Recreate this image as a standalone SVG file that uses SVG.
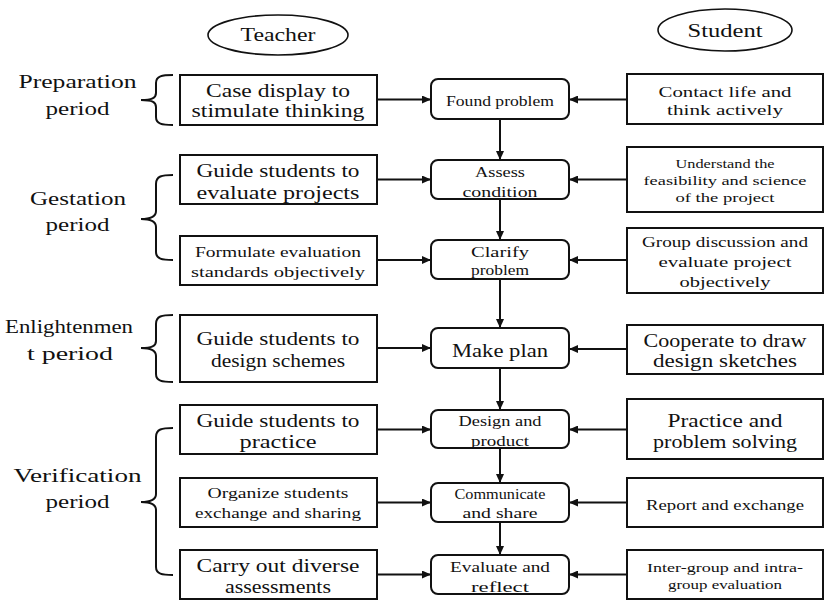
<svg xmlns="http://www.w3.org/2000/svg" width="829" height="606" viewBox="0 0 829 606">
<style>
text{font-family:"Liberation Serif","DejaVu Serif",serif;fill:#111;text-anchor:middle;}
.big{font-size:19.5px;}
.m{font-size:18px;}
.s{font-size:15.5px;}
.xs{font-size:13.3px;}
.box{fill:#fff;stroke:#111;stroke-width:2;}
.ell{fill:#fff;stroke:#111;stroke-width:1.6;}
.br{fill:none;stroke:#111;stroke-width:2;}
.ln{fill:none;stroke:#111;stroke-width:2;}
</style>
<defs>
<marker id="ah" markerUnits="userSpaceOnUse" markerWidth="10" markerHeight="8" refX="9" refY="4" orient="auto">
<path d="M0,0 L9,4 L0,8 Z" fill="#111"/>
</marker>
</defs>
<rect width="829" height="606" fill="#fff"/>

<g id="teacher-header">
<ellipse class="ell" cx="278" cy="35" rx="70" ry="20"/>
<text class="big" x="278" y="41" textLength="75" lengthAdjust="spacingAndGlyphs">Teacher</text>
</g>
<g id="student-header">
<ellipse class="ell" cx="725" cy="30" rx="67" ry="21"/>
<text class="big" x="725" y="37" textLength="75" lengthAdjust="spacingAndGlyphs">Student</text>
</g>

<g id="phase-preparation">
<text class="big" x="77.5" y="88" textLength="118" lengthAdjust="spacingAndGlyphs">Preparation</text>
<text class="big" x="77.5" y="115" textLength="64" lengthAdjust="spacingAndGlyphs">period</text>
<path class="br" d="M173,75 C162,75 156,76 156,83 L156,93 C156,98 152,100 141,100 C152,100 156,102 156,107 L156,117 C156,124 162,125 173,125"/>
</g>
<g id="phase-gestation">
<text class="big" x="78" y="205" textLength="96" lengthAdjust="spacingAndGlyphs">Gestation</text>
<text class="big" x="77.5" y="231" textLength="64" lengthAdjust="spacingAndGlyphs">period</text>
<path class="br" d="M173,175 C162,175 156,176 156,184 L156,211 C156,216 152,219 141,219 C152,219 156,222 156,227 L156,252 C156,259 162,260 173,260"/>
</g>
<g id="phase-enlightenment">
<text class="big" x="69" y="333" textLength="128" lengthAdjust="spacingAndGlyphs">Enlightenmen</text>
<text class="big" x="70" y="360" textLength="86" lengthAdjust="spacingAndGlyphs">t period</text>
<path class="br" d="M173,315 C162,315 156,316 156,324 L156,341 C156,346 152,348 141,348 C152,348 156,351 156,356 L156,374 C156,381 162,382 173,382"/>
</g>
<g id="phase-verification">
<text class="big" x="77.5" y="482" textLength="128" lengthAdjust="spacingAndGlyphs">Verification</text>
<text class="big" x="77.5" y="508" textLength="64" lengthAdjust="spacingAndGlyphs">period</text>
<path class="br" d="M173,428 C162,428 156,429 156,437 L156,494 C156,499 152,502 141,502 C152,502 156,505 156,510 L156,567 C156,574 162,575 173,575"/>
</g>

<g id="connectors">
<line class="ln" x1="377" y1="99.5" x2="431" y2="99.5" marker-end="url(#ah)"/>
<line class="ln" x1="627" y1="99.5" x2="569" y2="99.5" marker-end="url(#ah)"/>
<line class="ln" x1="377" y1="179.5" x2="431" y2="179.5" marker-end="url(#ah)"/>
<line class="ln" x1="627" y1="179.5" x2="569" y2="179.5" marker-end="url(#ah)"/>
<line class="ln" x1="377" y1="260" x2="431" y2="260" marker-end="url(#ah)"/>
<line class="ln" x1="627" y1="260" x2="569" y2="260" marker-end="url(#ah)"/>
<line class="ln" x1="377" y1="348" x2="431" y2="348" marker-end="url(#ah)"/>
<line class="ln" x1="627" y1="349" x2="569" y2="349" marker-end="url(#ah)"/>
<line class="ln" x1="377" y1="429.5" x2="431" y2="429.5" marker-end="url(#ah)"/>
<line class="ln" x1="627" y1="429.5" x2="569" y2="429.5" marker-end="url(#ah)"/>
<line class="ln" x1="377" y1="502.5" x2="431" y2="502.5" marker-end="url(#ah)"/>
<line class="ln" x1="627" y1="502.5" x2="569" y2="502.5" marker-end="url(#ah)"/>
<line class="ln" x1="377" y1="574.5" x2="431" y2="574.5" marker-end="url(#ah)"/>
<line class="ln" x1="627" y1="574.5" x2="569" y2="574.5" marker-end="url(#ah)"/>
<line class="ln" x1="500" y1="119" x2="500" y2="160" marker-end="url(#ah)"/>
<line class="ln" x1="500" y1="199" x2="500" y2="240" marker-end="url(#ah)"/>
<line class="ln" x1="500" y1="279" x2="500" y2="328" marker-end="url(#ah)"/>
<line class="ln" x1="500" y1="368" x2="500" y2="410" marker-end="url(#ah)"/>
<line class="ln" x1="500" y1="448" x2="500" y2="483" marker-end="url(#ah)"/>
<line class="ln" x1="500" y1="522" x2="500" y2="555" marker-end="url(#ah)"/>
</g>

<g id="t1">
<rect class="box" x="180" y="75" width="197" height="50"/>
<text class="m" x="278" y="97" textLength="144" lengthAdjust="spacingAndGlyphs">Case display to</text>
<text class="m" x="278" y="117" textLength="173" lengthAdjust="spacingAndGlyphs">stimulate thinking</text>
</g>
<g id="t2">
<rect class="box" x="180" y="155" width="197" height="49"/>
<text class="m" x="278" y="177" textLength="163" lengthAdjust="spacingAndGlyphs">Guide students to</text>
<text class="m" x="278" y="199" textLength="163" lengthAdjust="spacingAndGlyphs">evaluate projects</text>
</g>
<g id="t3">
<rect class="box" x="180" y="236" width="197" height="49"/>
<text class="s" x="278" y="257" textLength="166" lengthAdjust="spacingAndGlyphs">Formulate evaluation</text>
<text class="s" x="278" y="277" textLength="174" lengthAdjust="spacingAndGlyphs">standards objectively</text>
</g>
<g id="t4">
<rect class="box" x="180" y="315" width="197" height="67"/>
<text class="m" x="278" y="345" textLength="163" lengthAdjust="spacingAndGlyphs">Guide students to</text>
<text class="m" x="278" y="367" textLength="134" lengthAdjust="spacingAndGlyphs">design schemes</text>
</g>
<g id="t5">
<rect class="box" x="180" y="405" width="197" height="49"/>
<text class="m" x="278" y="427" textLength="163" lengthAdjust="spacingAndGlyphs">Guide students to</text>
<text class="m" x="278" y="448" textLength="77" lengthAdjust="spacingAndGlyphs">practice</text>
</g>
<g id="t6">
<rect class="box" x="180" y="478" width="197" height="49"/>
<text class="s" x="278" y="498" textLength="141" lengthAdjust="spacingAndGlyphs">Organize students</text>
<text class="s" x="278" y="518" textLength="166" lengthAdjust="spacingAndGlyphs">exchange and sharing</text>
</g>
<g id="t7">
<rect class="box" x="180" y="550" width="197" height="49"/>
<text class="m" x="278" y="572" textLength="163" lengthAdjust="spacingAndGlyphs">Carry out diverse</text>
<text class="m" x="278" y="593" textLength="106" lengthAdjust="spacingAndGlyphs">assessments</text>
</g>

<g id="c1">
<rect class="box" x="431" y="79" width="138" height="40" rx="7"/>
<text class="s" x="500" y="106" textLength="108" lengthAdjust="spacingAndGlyphs">Found problem</text>
</g>
<g id="c2">
<rect class="box" x="431" y="160" width="138" height="39" rx="7"/>
<text class="s" x="500" y="177" textLength="50" lengthAdjust="spacingAndGlyphs">Assess</text>
<text class="s" x="500" y="197" textLength="75" lengthAdjust="spacingAndGlyphs">condition</text>
</g>
<g id="c3">
<rect class="box" x="431" y="240" width="138" height="39" rx="7"/>
<text class="s" x="500" y="257" textLength="58" lengthAdjust="spacingAndGlyphs">Clarify</text>
<text class="s" x="500" y="275" textLength="58" lengthAdjust="spacingAndGlyphs">problem</text>
</g>
<g id="c4">
<rect class="box" x="431" y="328" width="138" height="40" rx="7"/>
<text class="big" x="500" y="357" textLength="96" lengthAdjust="spacingAndGlyphs">Make plan</text>
</g>
<g id="c5">
<rect class="box" x="431" y="410" width="138" height="38" rx="7"/>
<text class="s" x="500" y="426" textLength="83" lengthAdjust="spacingAndGlyphs">Design and</text>
<text class="s" x="500" y="446" textLength="58" lengthAdjust="spacingAndGlyphs">product</text>
</g>
<g id="c6">
<rect class="box" x="431" y="483" width="138" height="39" rx="7"/>
<text class="s" x="500" y="499" textLength="91" lengthAdjust="spacingAndGlyphs">Communicate</text>
<text class="s" x="500" y="518" textLength="75" lengthAdjust="spacingAndGlyphs">and share</text>
</g>
<g id="c7">
<rect class="box" x="431" y="555" width="138" height="39" rx="7"/>
<text class="s" x="500" y="572" textLength="100" lengthAdjust="spacingAndGlyphs">Evaluate and</text>
<text class="s" x="500" y="592" textLength="58" lengthAdjust="spacingAndGlyphs">reflect</text>
</g>

<g id="s1">
<rect class="box" x="627" y="74" width="196" height="50"/>
<text class="s" x="725" y="97" textLength="133" lengthAdjust="spacingAndGlyphs">Contact life and</text>
<text class="s" x="725" y="115" textLength="116" lengthAdjust="spacingAndGlyphs">think actively</text>
</g>
<g id="s2">
<rect class="box" x="627" y="147" width="196" height="65"/>
<text class="xs" x="725" y="168" textLength="99" lengthAdjust="spacingAndGlyphs">Understand the</text>
<text class="xs" x="725" y="185" textLength="163" lengthAdjust="spacingAndGlyphs">feasibility and science</text>
<text class="xs" x="725" y="202" textLength="99" lengthAdjust="spacingAndGlyphs">of the project</text>
</g>
<g id="s3">
<rect class="box" x="627" y="228" width="196" height="65"/>
<text class="s" x="725" y="247" textLength="166" lengthAdjust="spacingAndGlyphs">Group discussion and</text>
<text class="s" x="725" y="267" textLength="133" lengthAdjust="spacingAndGlyphs">evaluate project</text>
<text class="s" x="725" y="287" textLength="91" lengthAdjust="spacingAndGlyphs">objectively</text>
</g>
<g id="s4">
<rect class="box" x="627" y="325" width="196" height="49"/>
<text class="m" x="725" y="347" textLength="163" lengthAdjust="spacingAndGlyphs">Cooperate to draw</text>
<text class="m" x="725" y="367" textLength="144" lengthAdjust="spacingAndGlyphs">design sketches</text>
</g>
<g id="s5">
<rect class="box" x="627" y="399" width="196" height="60"/>
<text class="m" x="725" y="427" textLength="115" lengthAdjust="spacingAndGlyphs">Practice and</text>
<text class="m" x="725" y="448" textLength="144" lengthAdjust="spacingAndGlyphs">problem solving</text>
</g>
<g id="s6">
<rect class="box" x="627" y="478" width="196" height="49"/>
<text class="s" x="725" y="510" textLength="158" lengthAdjust="spacingAndGlyphs">Report and exchange</text>
</g>
<g id="s7">
<rect class="box" x="627" y="550" width="196" height="49"/>
<text class="xs" x="725" y="572" textLength="156" lengthAdjust="spacingAndGlyphs">Inter-group and intra-</text>
<text class="xs" x="725" y="589" textLength="114" lengthAdjust="spacingAndGlyphs">group evaluation</text>
</g>
</svg>
